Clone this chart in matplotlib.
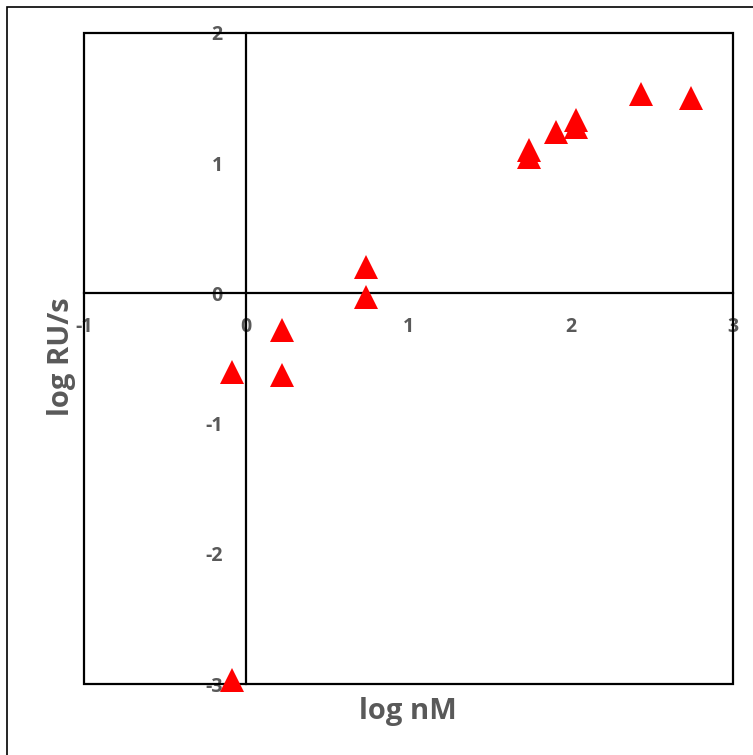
import matplotlib
matplotlib.use("Agg")
import matplotlib.pyplot as plt
from matplotlib.patches import Rectangle

plt.rcParams['font.family'] = ['Open Sans', 'DejaVu Sans']
plt.rcParams['axes.unicode_minus'] = False

log_nM = [-0.09, -0.09, 0.22, 0.22, 0.74, 0.74, 1.74, 1.74, 1.91, 2.03, 2.03, 2.43, 2.74]
log_RU_s = [-0.60, -2.97, -0.28, -0.63, 0.20, -0.03, 1.10, 1.05, 1.24, 1.33, 1.28, 1.53, 1.50]
x_ticks = [-1, 0, 1, 2, 3]
y_ticks = [-3, -2, -1, 0, 1, 2]

W, H = 753, 755
fig = plt.figure(figsize=(W / 100, H / 100), dpi=100)
ax = fig.add_axes([84 / W, (H - 684) / H, 649 / W, 651 / H])

gray = '#595959'
ax.plot(log_nM, log_RU_s, linestyle='none', marker='^', markersize=17,
        color='#FF0000', markeredgewidth=0, clip_on=False, zorder=5)

ax.set_xlim(-1, 3)
ax.set_ylim(-3, 2)
ax.set_xticks(x_ticks)
ax.set_yticks(y_ticks)

ax.spines['left'].set_position(('data', 0))
ax.spines['bottom'].set_position(('data', 0))
for s in ['left', 'bottom']:
    ax.spines[s].set_linewidth(1.6)
    ax.spines[s].set_color('black')
ax.spines['top'].set_visible(False)
ax.spines['right'].set_visible(False)
ax.add_patch(Rectangle((0, 0), 1, 1, transform=ax.transAxes, fill=False,
                       edgecolor='black', linewidth=1.6, clip_on=False, zorder=4))

ax.tick_params(axis='both', length=0, labelsize=14, labelcolor=gray)
ax.tick_params(axis='y', pad=17)
ax.tick_params(axis='x', pad=17)
for lbl in ax.get_xticklabels() + ax.get_yticklabels():
    lbl.set_fontweight('bold')

fig.text(408 / W, 1 - 711 / H, 'log nM', ha='center', va='center',
         fontsize=21, fontweight='bold', color=gray)
fig.text(62 / W, 1 - 357 / H, 'log RU/s', ha='center', va='center', rotation=90,
         fontsize=21, fontweight='bold', color=gray)

fig.add_artist(Rectangle((7 / W, -0.05), 1.2, 1 - 7 / H + 0.05, transform=fig.transFigure,
                         fill=False, edgecolor='black', linewidth=1.2))

fig.savefig('out.png', dpi=100)
